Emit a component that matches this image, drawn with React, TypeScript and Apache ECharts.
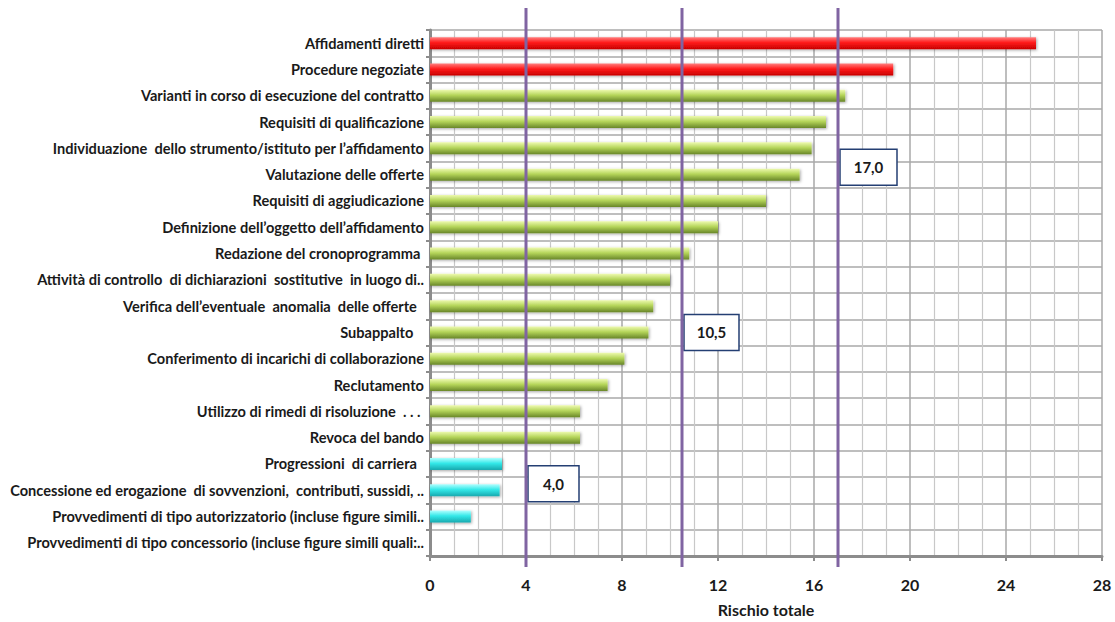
import React, { useEffect, useRef } from "react";
import * as echarts from "echarts";

const categories = [
  "Affidamenti diretti",
  "Procedure negoziate",
  "Varianti in corso di esecuzione del contratto",
  "Requisiti di qualificazione",
  "Individuazione  dello strumento/istituto per l\u2019affidamento",
  "Valutazione delle offerte",
  "Requisiti di aggiudicazione",
  "Definizione dell\u2019oggetto dell\u2019affidamento",
  "Redazione del cronoprogramma\u00A0",
  "Attivit\u00E0 di controllo  di dichiarazioni  sostitutive  in luogo di..",
  "Verifica dell\u2019eventuale  anomalia  delle offerte\u00A0\u00A0",
  "Subappalto\u00A0\u00A0\u00A0",
  "Conferimento di incarichi di collaborazione",
  "Reclutamento",
  "Utilizzo di rimedi di risoluzione  . . .\u00A0",
  "Revoca del bando",
  "Progressioni  di carriera\u00A0\u00A0",
  "Concessione ed erogazione  di sovvenzioni,  contributi, sussidi, ..",
  "Provvedimenti di tipo autorizzatorio (incluse figure simili..",
  "Provvedimenti di tipo concessorio (incluse figure simili quali:..",
];

const values = [25.25, 19.3, 17.3, 16.5, 15.9, 15.4, 14.0, 12.0, 10.8, 10.0, 9.3, 9.1, 8.1, 7.4, 6.25, 6.25, 3.0, 2.9, 1.7, 0];

const groups = [
  "high", "high",
  "mid", "mid", "mid", "mid", "mid", "mid", "mid", "mid", "mid", "mid", "mid", "mid", "mid", "mid",
  "low", "low", "low", "low",
];

const xTicks = [0, 4, 8, 12, 16, 20, 24, 28];

const refValues = [4, 10.5, 17];
const refLabels = ["4,0", "10,5", "17,0"];
const refLabelRows = [16.75, 11, 4.72];
const refBoxWidths = [51, 55, 57];

const gradients: Record<string, string[]> = {
  high: ["#ff8080", "#ff1a1a", "#c80000"],
  mid: ["#eefab0", "#b5d55a", "#688628"],
  low: ["#b0ffff", "#33e8e8", "#18a8ae"],
};

function grad(g: string) {
  const c = gradients[g];
  return new echarts.graphic.LinearGradient(0, 0, 0, 1, [
    { offset: 0, color: c[0] },
    { offset: 0.45, color: c[1] },
    { offset: 1, color: c[2] },
  ]);
}

const FONT = "Lato";

export default function App() {
  const ref = useRef<HTMLDivElement>(null);
  useEffect(() => {
    if (!ref.current) return;
    const chart = echarts.init(ref.current, undefined, { renderer: "svg" });
    const gridTop = 30;
    const gridBottom = 61;
    chart.setOption({
      animation: false,
      backgroundColor: "#ffffff",
      grid: { left: 430, right: 13, top: gridTop, bottom: gridBottom, containLabel: false },
      xAxis: {
        type: "value",
        min: 0,
        max: 28,
        interval: 4,
        name: "Rischio totale",
        nameLocation: "middle",
        nameGap: 45,
        nameTextStyle: { fontFamily: FONT, fontWeight: "bold", fontSize: 16, color: "#1a1a1a" },
        axisLine: { show: true, lineStyle: { color: "#8c8c8c", width: 3 } },
        axisTick: { show: true, length: 5, lineStyle: { color: "#8c8c8c", width: 2 } },
        axisLabel: {
          margin: 20,
          fontFamily: FONT,
          fontWeight: "bold",
          fontSize: 16,
          color: "#1a1a1a",
          formatter: (v: number) => (xTicks.includes(v) ? String(v) : ""),
        },
        splitLine: { show: true, lineStyle: { color: "#a8a8a8", width: 1.5 } },
        minorTick: { show: false, splitNumber: 4 },
        minorSplitLine: { show: true, lineStyle: { color: "#c8c8c8", width: 1.2 } },
      },
      yAxis: {
        type: "category",
        inverse: true,
        data: categories,
        axisLine: { show: true, lineStyle: { color: "#8c8c8c", width: 3 } },
        axisTick: { show: true, length: 4, lineStyle: { color: "#8c8c8c", width: 2 } },
        axisLabel: {
          margin: 6,
          fontFamily: FONT,
          fontWeight: "bold",
          fontSize: 14.6,
          color: "#1a1a1a",
        },
        splitLine: { show: true, lineStyle: { color: "#a8a8a8", width: 1.5 } },
      },
      series: [
        {
          type: "bar",
          barWidth: 12,
          data: values.map((v, i) => ({
            value: v,
            itemStyle: {
              color: grad(groups[i]),
              shadowColor: "rgba(0,0,0,0.35)",
              shadowBlur: 3,
              shadowOffsetX: 1,
              shadowOffsetY: 1,
            },
          })),
        },
      ],
    });

    const pTop = chart.convertToPixel({ yAxisIndex: 0 }, 0) as number;
    const pNext = chart.convertToPixel({ yAxisIndex: 0 }, 1) as number;
    const step = pNext - pTop;
    const plotTop = gridTop;
    const plotBottom = 622 - gridBottom;
    const graphics: any[] = [];
    refValues.forEach((v, i) => {
      const x = chart.convertToPixel({ xAxisIndex: 0 }, v) as number;
      graphics.push({
        type: "line",
        z: 100,
        shape: { x1: x, y1: plotTop - 22, x2: x, y2: plotBottom + 6 },
        style: { stroke: "#8064a2", lineWidth: 3 },
      });
      const cy = pTop + refLabelRows[i] * step;
      const w = refBoxWidths[i];
      graphics.push({
        type: "group",
        z: 101,
        x: x + 2,
        y: cy - 18,
        children: [
          {
            type: "rect",
            shape: { x: 0, y: 0, width: w, height: 36 },
            style: { fill: "#ffffff", stroke: "#243f73", lineWidth: 1.5 },
          },
          {
            type: "text",
            x: w / 2,
            y: 18,
            style: {
              text: refLabels[i],
              align: "center",
              verticalAlign: "middle",
              fontFamily: FONT,
              fontWeight: "bold",
              fontSize: 15,
              fill: "#1a1a1a",
            },
          },
        ],
      });
    });
    chart.setOption({ graphic: graphics });

    return () => chart.dispose();
  }, []);
  return (
    <div
      ref={ref}
      style={{ position: "absolute", left: 0, top: 0, width: 1115, height: 622 }}
    />
  );
}
